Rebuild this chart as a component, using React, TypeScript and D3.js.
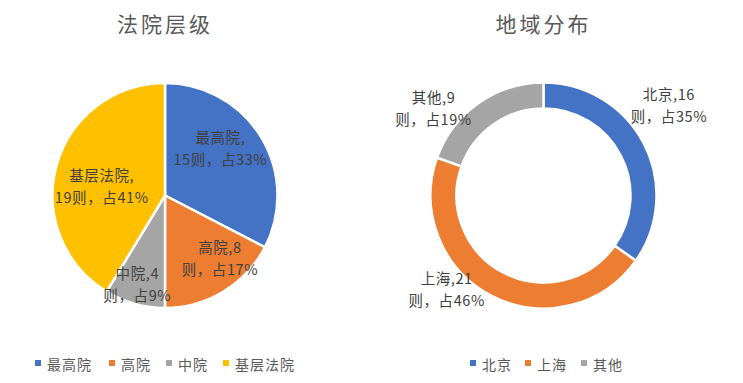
import React from "react";
import * as d3 from "d3";

const courtLevels = ["最高院", "高院", "中院", "基层法院"];
const courtCounts = [15, 8, 4, 19];
const courtLabels = [
  ["最高院,", "15则，占33%"],
  ["高院,8", "则，占17%"],
  ["中院,4", "则，占9%"],
  ["基层法院,", "19则，占41%"],
];
const regions = ["北京", "上海", "其他"];
const regionCounts = [16, 21, 9];
const regionLabels = [
  ["北京,16", "则，占35%"],
  ["上海,21", "则，占46%"],
  ["其他,9", "则，占19%"],
];
const colors = ["#4472C4", "#ED7D31", "#A5A5A5", "#FFC000"];

// label layout nudges (pixels, relative to centroid)
const courtNudge = [[-7, -10], [17, 0], [-8, 18], [7, 10]];
const regionNudge = [[10, -31], [-37, -22], [-35, 18]];

const W = 743, H = 383;
const FONT = "'Noto Sans CJK SC', 'Noto Sans', sans-serif";

function Chart({ cx, cy, r, inner, values, labels, nudge, labelR, title, names, legendX }: any) {
  const pie = d3.pie<number>().sort(null).value((d) => d)(values);
  const arc = d3.arc<any>().innerRadius(inner).outerRadius(r);
  const lab = d3.arc<any>().innerRadius(labelR).outerRadius(labelR);
  return (
    <g>
      <text x={cx} y={23} textAnchor="middle" dominantBaseline="central" fontSize={21} letterSpacing={3} fill="#595959" fontFamily={FONT}>{title}</text>
      <g transform={`translate(${cx},${cy})`}>
        {pie.map((p, i) => (
          <path key={i} d={arc(p) as string} fill={colors[i]} stroke="#fff" strokeWidth={2.5} />
        ))}
        {pie.map((p, i) => {
          const [x, y] = lab.centroid(p);
          const lx = x + nudge[i][0], ly = y + nudge[i][1];
          return (
            <text key={i} textAnchor="middle" fontSize={14.5} fill="#404040" fontFamily={FONT} letterSpacing={0.6}>
              <tspan x={lx} y={ly - 11} dominantBaseline="central">{labels[i][0]}</tspan>
              <tspan x={lx} y={ly + 11} dominantBaseline="central">{labels[i][1]}</tspan>
            </text>
          );
        })}
      </g>
      {names.map((n: string, i: number) => {
        const x = legendX[i];
        return (
          <g key={n}>
            <rect x={x - 3} y={360} width={6} height={6} fill={colors[i]} />
            <text x={x + 9} y={363.5} dominantBaseline="central" fontSize={14} letterSpacing={1} fill="#595959" fontFamily={FONT}>{n}</text>
          </g>
        );
      })}
    </g>
  );
}

export default function App() {
  return (
    <div style={{ position: "absolute", left: 0, top: 0 }}>
      <svg width={W} height={H} style={{ display: "block", background: "#fff" }}>
        <Chart cx={165} cy={195.5} r={112.5} inner={0} values={courtCounts} labels={courtLabels} nudge={courtNudge} labelR={73}
          title="法院层级" names={courtLevels} legendX={[38, 112, 169, 226]} />
        <Chart cx={543.5} cy={195.5} r={113} inner={87} values={regionCounts} labels={regionLabels} nudge={regionNudge} labelR={130}
          title="地域分布" names={regions} legendX={[473, 528, 584]} />
      </svg>
    </div>
  );
}
